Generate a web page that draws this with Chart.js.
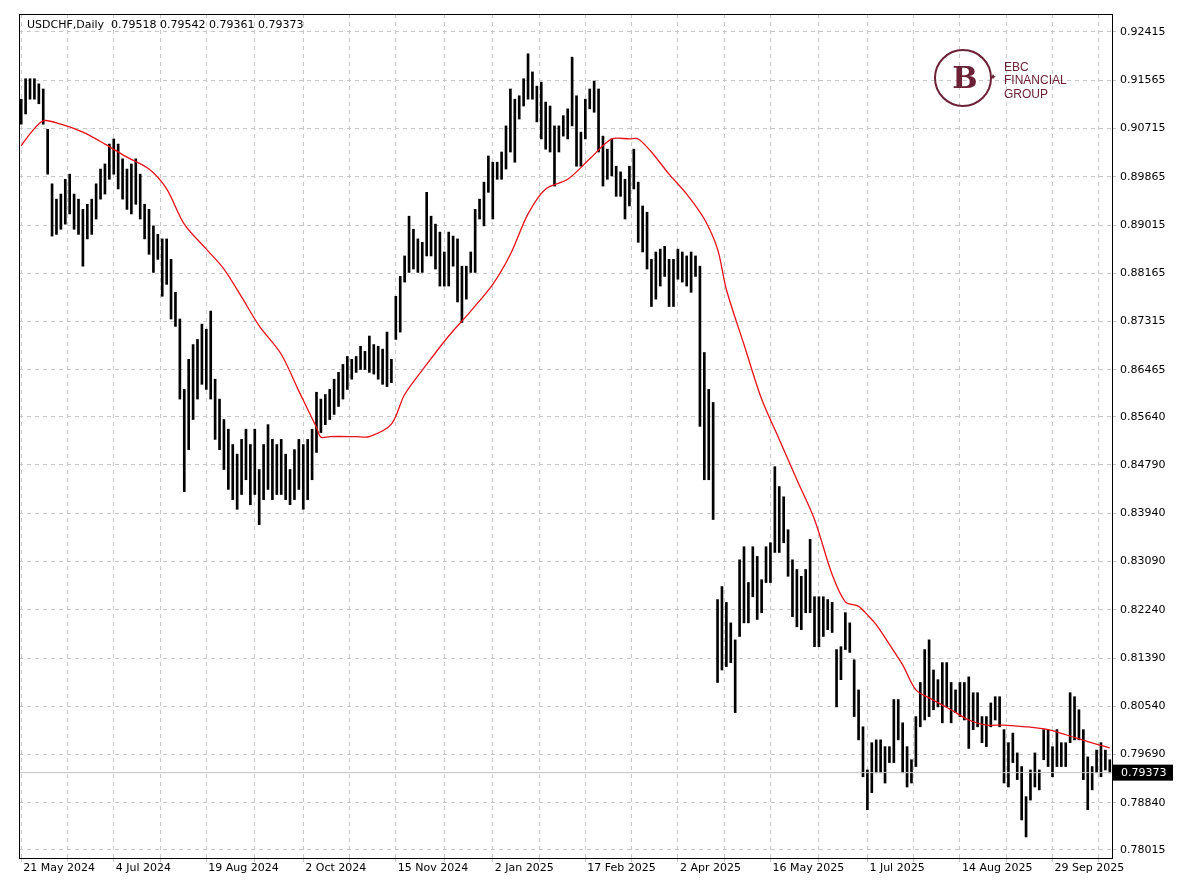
<!DOCTYPE html>
<html>
<head>
<meta charset="utf-8">
<script src="https://cdn.jsdelivr.net/npm/chart.js@4"></script>
<style>
  body { margin: 0; background: #fff; }
  #wrap { width: 1200px; height: 896px; }
</style>
</head>
<body>
<div id="wrap"><canvas id="chart" width="1200" height="896"></canvas></div>
<script>
// Daily bar highs / lows (one entry per bar)
const highs = [
  .9123,.9159,.9159,.9159,.9150,.9141,.9070,.8974,.8947,.8956,.8982,.8991,.8956,.8947,.8929,.8938,.8947,.8974,.9000,.9009,
  .9044,.9053,.9044,.9018,.9000,.9009,.9018,.8991,.8938,.8929,.8900,.8885,.8877,.8877,.8841,.8783,.8736,.8612,.8665,.8691,
  .8700,.8727,.8718,.8750,.8630,.8595,.8559,.8542,.8515,.8498,.8524,.8542,.8515,.8542,.8471,.8515,.8550,.8524,.8515,.8524,
  .8498,.8471,.8506,.8524,.8515,.8524,.8542,.8607,.8595,.8603,.8612,.8630,.8642,.8656,.8670,.8665,.8670,.8688,.8679,.8706,
  .8691,.8688,.8683,.8713,.8665,.8776,.8811,.8847,.8917,.8894,.8877,.8871,.8959,.8917,.8903,.8889,.8854,.8889,.8882,.8877,
  .8829,.8829,.8854,.8929,.8947,.8977,.9023,.9012,.9012,.9030,.9076,.9141,.9123,.9129,.9159,.9203,.9171,.9146,.9153,.9118,
  .9111,.9076,.9076,.9094,.9106,.9197,.9129,.9065,.9123,.9141,.9155,.9141,.9058,.9035,.9053,.9005,.8995,.8982,.9005,.9035,
  .8977,.8935,.8924,.8841,.8854,.8859,.8864,.8841,.8841,.8859,.8854,.8847,.8854,.8847,.8829,.8677,.8612,.8589,.8242,.8265,
  .8237,.8201,.8171,.8312,.8335,.8272,.8335,.8318,.8277,.8335,.8342,.8476,.8441,.8423,.8365,.8312,.8295,.8283,.8295,.8348,
  .8247,.8247,.8247,.8242,.8237,.8154,.8159,.8219,.8201,.8136,.8083,.8018,.7942,.7990,.7995,.7995,.7983,.7983,.8066,.8066,
  .8025,.7983,.7960,.8036,.8096,.8154,.8171,.8118,.8101,.8131,.8131,.8096,.8083,.8096,.8096,.8106,.8078,.8078,.8036,.8036,
  .8060,.8071,.8071,.8013,.7990,.8007,.7972,.7948,.7895,.7942,.7972,.7942,.8013,.8013,.7983,.8013,.7990,.7990,.8078,.8071,
  .8048,.8013,.7965,.7948,.7977,.7990,.7977,.7960
];
const lows = [
  .9079,.9097,.9123,.9123,.9115,.9079,.8991,.8882,.8885,.8894,.8903,.8921,.8894,.8885,.8829,.8877,.8885,.8912,.8947,.8956,
  .8982,.8991,.8965,.8947,.8929,.8921,.8938,.8912,.8877,.8850,.8818,.8841,.8776,.8797,.8736,.8723,.8595,.8432,.8506,.8559,
  .8595,.8621,.8612,.8595,.8524,.8506,.8471,.8436,.8418,.8401,.8427,.8453,.8409,.8427,.8374,.8418,.8436,.8418,.8427,.8427,
  .8418,.8409,.8418,.8436,.8401,.8418,.8453,.8501,.8536,.8550,.8559,.8568,.8582,.8595,.8612,.8630,.8642,.8647,.8647,.8642,
  .8639,.8630,.8621,.8617,.8624,.8700,.8713,.8801,.8818,.8824,.8818,.8818,.8847,.8847,.8824,.8794,.8794,.8794,.8829,.8766,
  .8730,.8771,.8818,.8818,.8912,.8900,.8959,.8912,.8982,.8982,.9000,.9030,.9012,.9088,.9111,.9123,.9123,.9083,.9053,.9035,
  .9030,.8970,.9030,.9058,.9053,.9076,.9005,.9005,.9053,.9106,.9100,.9030,.8970,.8982,.8988,.8952,.8952,.8912,.8935,.8965,
  .8871,.8854,.8824,.8758,.8771,.8794,.8811,.8758,.8758,.8806,.8801,.8794,.8783,.8811,.8547,.8453,.8453,.8383,.8096,.8118,
  .8124,.8131,.8043,.8177,.8201,.8201,.8247,.8207,.8219,.8272,.8272,.8325,.8325,.8342,.8283,.8212,.8194,.8189,.8219,.8219,
  .8159,.8159,.8177,.8189,.8184,.8053,.8101,.8154,.8149,.8036,.7995,.7930,.7872,.7902,.7937,.7937,.7919,.7955,.7955,.7995,
  .7937,.7912,.7919,.7948,.8018,.8030,.8036,.8048,.8053,.8025,.8053,.8025,.8043,.8036,.8030,.7980,.8013,.8018,.7990,.7983,
  .8018,.8030,.8018,.7919,.7912,.7955,.7925,.7854,.7824,.7889,.7912,.7907,.7960,.7948,.7930,.7948,.7948,.7948,.7990,.7995,
  .7995,.7925,.7872,.7907,.7937,.7930,.7942,.7937
];

// Moving average readings (bar index -> value)
const maIndex = [0,2,5,9,14,19,24,29,33,37,42,46,50,54,59,63,67,68,70,76,79,84,87,92,97,102,107,111,115,119,124,129,134,138,140,143,147,151,155,158,160,164,168,172,176,180,184,187,190,192,194,197,200,203,206,211,215,219,223,228,233,237,242,247];
const maValue = [.9041,.9062,.9085,.9079,.9065,.9044,.9021,.9000,.8965,.8903,.8859,.8824,.8775,.8724,.8674,.8609,.8545,.8528,.8529,.8529,.8529,.8551,.8603,.8656,.8706,.8750,.8797,.8850,.8921,.8965,.8982,.9018,.9053,.9053,.9053,.9030,.8991,.8956,.8912,.8859,.8788,.8691,.8595,.8524,.8453,.8383,.8286,.8238,.8230,.8215,.8198,.8163,.8127,.8083,.8069,.8048,.8030,.8021,.8021,.8018,.8013,.8004,.7992,.7981];

// Price axis labels
const priceTicks = [0.92415,0.91565,0.90715,0.89865,0.89015,0.88165,0.87315,0.86465,0.85640,0.84790,0.83940,0.83090,0.82240,0.81390,0.80540,0.79690,0.78840,0.78015];
// Date axis labels and the bar they sit on
const dateLabels = ['21 May 2024','4 Jul 2024','19 Aug 2024','2 Oct 2024','15 Nov 2024','2 Jan 2025','17 Feb 2025','2 Apr 2025','16 May 2025','1 Jul 2025','14 Aug 2025','29 Sep 2025'];
const dateIndex = [0,21,42,64,85,107,128,149,170,192,213,234];
const lastPrice = 0.79373;
const headerText = 'USDCHF,Daily  0.79518 0.79542 0.79361 0.79373';

let barData = highs.map((h, i) => ({ x: i, y: [lows[i], h] }));
let maData = maIndex.map((ix, i) => ({ x: ix, y: maValue[i] }));

// grid lines sit on each label and halfway between
let gridIdx = [];
dateIndex.forEach((d, i) => {
  gridIdx.push(d);
  let next = i < dateIndex.length - 1 ? dateIndex[i + 1] : d + 21;
  if ((d + next) / 2 < 248) gridIdx.push((d + next) / 2);
});

const fmt = v => v.toFixed(5);
const axisFont = { family: '"DejaVu Sans", Arial', size: 11 };

const extras = {
  id: 'extras',
  afterDraw(chart) {
    const c = chart.ctx, a = chart.chartArea, y = chart.scales.y, x = chart.scales.x;
    c.save();
    // last price line + box
    let py = y.getPixelForValue(lastPrice);
    c.strokeStyle = '#c0c0c0'; c.lineWidth = 1;
    c.beginPath(); c.moveTo(a.left, py); c.lineTo(a.right, py); c.stroke();
    c.fillStyle = '#000';
    c.fillRect(a.right + 1, py - 8, 60, 16);
    c.fillStyle = '#fff'; c.font = '11px "DejaVu Sans", Arial';
    c.textBaseline = 'middle';
    c.fillText(fmt(lastPrice), a.right + 9, py + 1);
    // frame
    c.strokeStyle = '#000'; c.lineWidth = 1;
    c.strokeRect(a.left + 0.5, a.top + 0.5, a.right - a.left, a.bottom - a.top);
    // date labels, left edge on their grid line
    c.fillStyle = '#000'; c.textBaseline = 'top';
    dateIndex.forEach((d, i) => c.fillText(dateLabels[i], x.getPixelForValue(d) + 2, a.bottom + 5));
    // header
    c.textBaseline = 'middle';
    c.fillText(headerText, a.left + 8, a.top + 11);
    // logo
    c.strokeStyle = '#6b2236'; c.fillStyle = '#6b2236'; c.lineWidth = 2;
    c.beginPath(); c.arc(963, 78, 28, 0, Math.PI * 2); c.stroke();
    c.font = 'bold 30px "DejaVu Serif"'; c.textAlign = 'center';
    c.fillText('B', 965, 80);
    c.font = '9px "DejaVu Sans"'; c.fillText('✦', 993, 78);
    c.textAlign = 'left';
    c.font = '12px "Liberation Sans"';
    c.fillText('EBC', 1004, 68);
    c.fillText('FINANCIAL', 1004, 81);
    c.fillText('GROUP', 1004, 95);
    c.restore();
  }
};

new Chart(document.getElementById('chart').getContext('2d'), {
  data: {
    datasets: [
      {
        type: 'bar',
        data: barData,
        backgroundColor: '#000',
        barThickness: 2,
        grouped: false,
        order: 2
      },
      {
        type: 'line',
        data: maData,
        borderColor: '#e8101a',
        borderWidth: 1.3,
        pointRadius: 0,
        tension: 0.3,
        order: 1
      }
    ]
  },
  options: {
    responsive: false,
    animation: false,
    layout: { padding: { left: 19, top: 14, right: 0, bottom: 4 } },
    plugins: { legend: { display: false }, tooltip: { enabled: false } },
    scales: {
      x: {
        type: 'linear',
        offset: false,
        min: -0.5,
        max: 247.5,
        afterBuildTicks: s => { s.ticks = gridIdx.map(v => ({ value: v })); },
        afterFit: s => { s.height = 34; },
        grid: { color: '#c8c8c8', drawTicks: true, tickLength: 4, offset: false },
        border: { display: false, dash: [4, 4] },
        ticks: { display: false }
      },
      y: {
        position: 'right',
        min: 0.7787,
        max: 0.9273,
        afterBuildTicks: s => { s.ticks = priceTicks.map(v => ({ value: v })); },
        afterFit: s => { s.width = 88; },
        grid: { color: '#c8c8c8', drawTicks: true, tickLength: 4 },
        border: { display: false, dash: [4, 4] },
        ticks: {
          color: '#000', padding: 4,
          font: axisFont,
          callback: v => fmt(v)
        }
      }
    }
  },
  plugins: [extras]
});
</script>
</body>
</html>
